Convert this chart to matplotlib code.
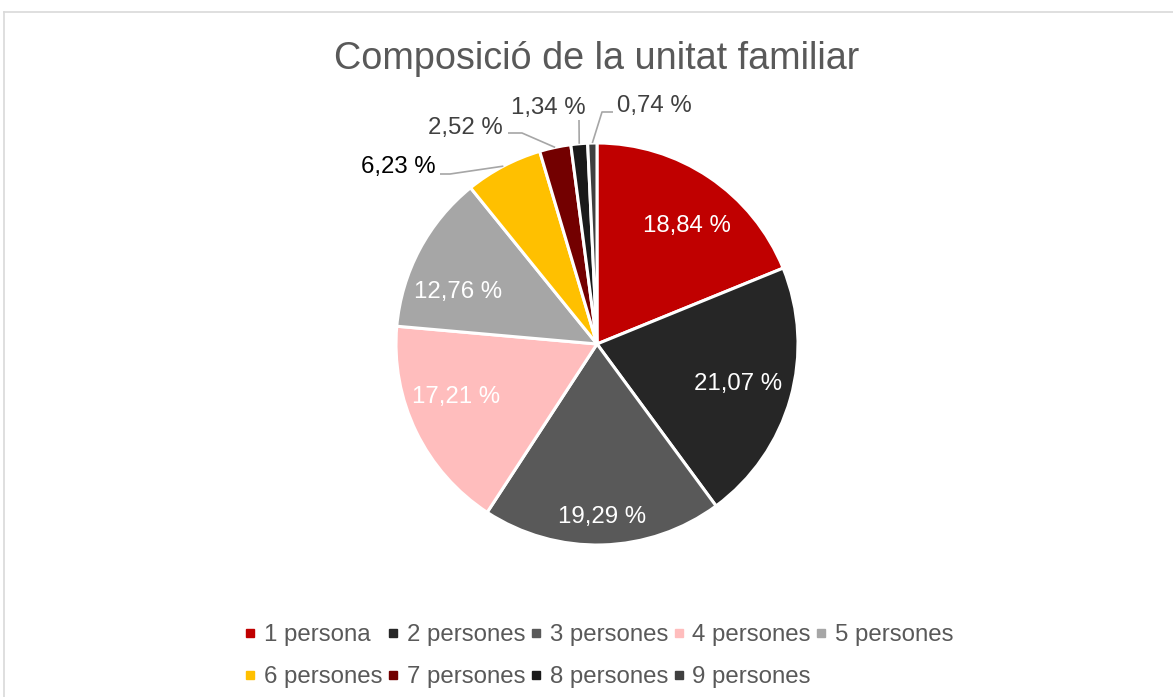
import numpy as np
import matplotlib
matplotlib.use('Agg')
import matplotlib.pyplot as plt
from matplotlib.lines import Line2D

plt.rcParams['font.family'] = ['Liberation Sans', 'DejaVu Sans']

# data
categories = ['1 persona', '2 persones', '3 persones', '4 persones', '5 persones',
              '6 persones', '7 persones', '8 persones', '9 persones']
shares = [18.84, 21.07, 19.29, 17.21, 12.76, 6.23, 2.52, 1.34, 0.74]
colors = ['#C00000', '#262626', '#595959', '#FFBDBD', '#A6A6A6',
          '#FFC000', '#730000', '#1A1A1A', '#404040']

W, H = 1173, 697
fig = plt.figure(figsize=(W / 100, H / 100), dpi=100)
ax = fig.add_axes([0, 0, 1, 1])

def py(y):
    # image pixel row -> data y
    return H - y

# chart frame (top and left edges visible)
ax.plot([4, W], [py(12), py(12)], color='#D9D9D9', lw=1.2, clip_on=False)
ax.plot([4, 4], [py(12), 0], color='#D9D9D9', lw=1.2, clip_on=False)

cx, cy, R = 597, py(344), 201
wedges, _ = ax.pie(shares, colors=colors, startangle=90, counterclock=False,
                   center=(cx, cy), radius=R, frame=True,
                   wedgeprops=dict(edgecolor='white', linewidth=2.2))
ax.set_xlim(0, W)
ax.set_ylim(0, H)
ax.axis('off')

def fmt(v):
    return f'{v:.2f} %'.replace('.', ',')

lab_fs = 17.3
# inside labels: radial factor and angular nudge (deg)
inner_r = [0.74, 0.73, 0.86, 0.75, 0.74]
inner_da = [-3.5, 0, 0, -5.5, 7.5]
for i, (r, da) in enumerate(zip(inner_r, inner_da)):
    w = wedges[i]
    a = np.deg2rad((w.theta1 + w.theta2) / 2 + da)
    ax.text(cx + r * R * np.cos(a), cy + r * R * np.sin(a), fmt(shares[i]),
            ha='center', va='center', fontsize=lab_fs, color='white')

# outside labels with leader lines: (elbow, line end, text pos, ha, color)
outer = {
    5: ((450, 174), (440, 174), (436, 167), 'right', '#000000'),
    6: ((522, 133), (508, 133), (503, 128), 'right', '#404040'),
    7: ((579, 120), (579, 120), (548, 108), 'center', '#404040'),
    8: ((602, 112), (613, 112), (617, 106), 'left', '#404040'),
}
for i, (elb, end, tp, ha, tc) in outer.items():
    w = wedges[i]
    a = np.deg2rad((w.theta1 + w.theta2) / 2)
    ex, ey = cx + R * np.cos(a), cy + R * np.sin(a)
    ax.plot([ex, elb[0], end[0]], [ey, py(elb[1]), py(end[1])],
            color='#A6A6A6', lw=1.2, solid_capstyle='butt')
    ax.text(tp[0], py(tp[1]), fmt(shares[i]), ha=ha, va='center',
            fontsize=lab_fs, color=tc)

# title
ax.text(597, py(59), 'Composició de la unitat familiar', ha='center', va='center',
        fontsize=27.2, color='#595959')

# legend, filled row by row (matplotlib fills by column)
order = [0, 5, 1, 6, 2, 7, 3, 8, 4]
handles = [Line2D([], [], marker='s', linestyle='', markersize=5.2,
                  markerfacecolor=colors[k], markeredgecolor=colors[k]) for k in order]
labels = [categories[k] for k in order]
leg = ax.legend(handles, labels, ncol=5, loc='upper center',
                bbox_to_anchor=(600 / W, 1 - 624 / H), bbox_transform=fig.transFigure,
                frameon=False, fontsize=lab_fs, handlelength=0.35, handletextpad=0.4,
                columnspacing=0.26, labelspacing=0.83, borderpad=0, borderaxespad=0)
for t in leg.get_texts():
    t.set_color('#595959')

fig.savefig('out.png', dpi=100)
